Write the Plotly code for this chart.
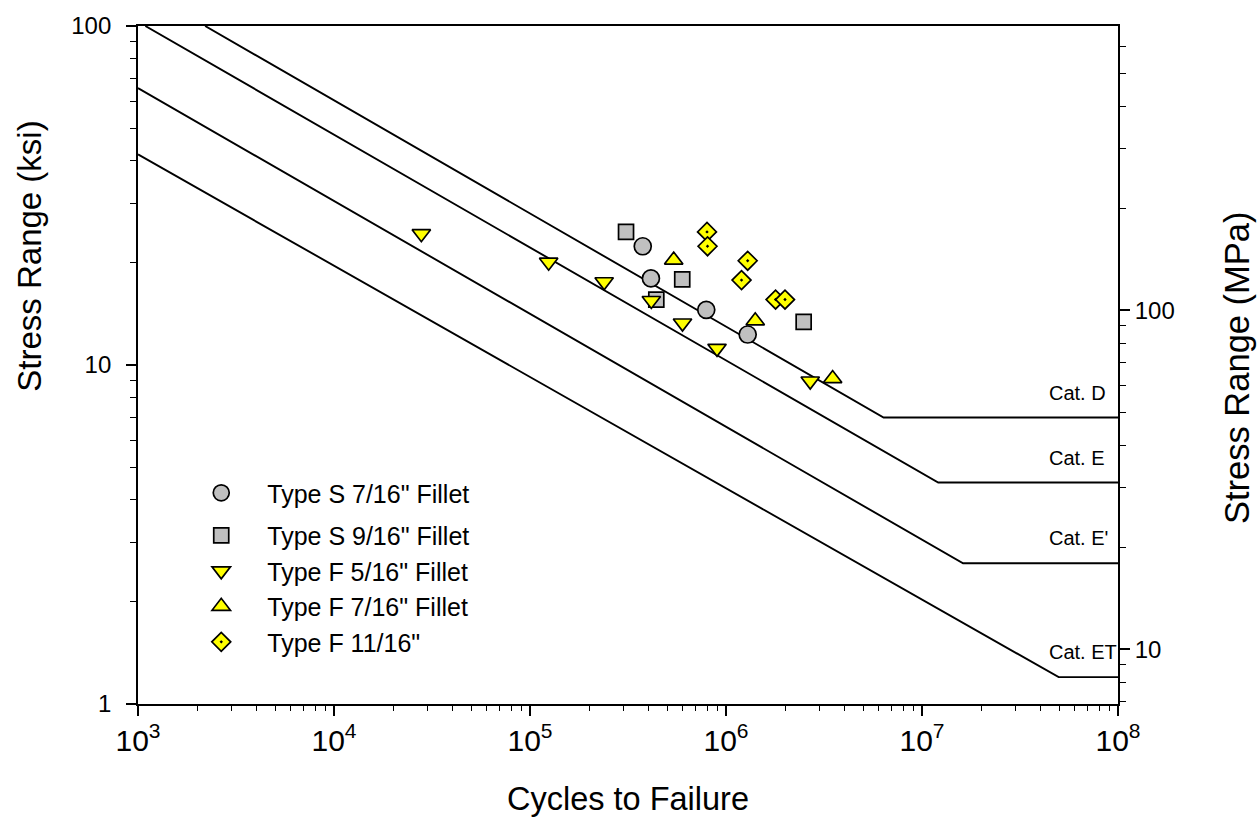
import math
import plotly.graph_objects as go

# ---------------- data ----------------
# Test data: cycles to failure (N) and stress range (ksi)
s716_cycles = [3.76e5, 4.14e5, 7.93e5, 1.29e6]
s716_stress = [22.4, 18.0, 14.55, 12.3]

s916_cycles = [3.09e5, 5.98e5, 4.41e5, 2.49e6]
s916_stress = [24.7, 17.9, 15.6, 13.4]

f516_cycles = [2.79e4, 1.245e5, 2.39e5, 4.16e5, 6.0e5, 9.0e5, 2.69e6]
f516_stress = [24.4, 20.1, 17.6, 15.5, 13.3, 11.2, 8.97]

f716_cycles = [5.41e5, 1.41e6, 3.5e6]
f716_stress = [20.4, 13.5, 9.12]

f1116_cycles = [8.0e5, 8.05e5, 1.29e6, 1.20e6, 1.79e6, 2.0e6]
f1116_stress = [24.7, 22.4, 20.3, 17.8, 15.6, 15.6]

# Design S-N curves (vertices: start, knee / CAFT, end)
cat_names = ["Cat. D", "Cat. E", "Cat. E'", "Cat. ET"]
cat_D_cycles = [2.2e3, 6.37e6, 1e8]
cat_D_stress = [100, 7.0, 7.0]
cat_E_cycles = [1.09e3, 1.21e7, 1e8]
cat_E_stress = [100, 4.5, 4.5]
cat_Ep_cycles = [1e3, 1.62e7, 1e8]
cat_Ep_stress = [65.6, 2.6, 2.6]
cat_ET_cycles = [1e3, 4.98e7, 1e8]
cat_ET_stress = [41.8, 1.2, 1.2]

KSI_TO_MPA = 6.895
y_ksi_range = [1, 100]
x_range = [1e3, 1e8]

# ---------------- figure ----------------
FONT = "Liberation Sans, Arial, sans-serif"
fig = go.Figure()

cat_cycles = [cat_D_cycles, cat_E_cycles, cat_Ep_cycles, cat_ET_cycles]
cat_stress = [cat_D_stress, cat_E_stress, cat_Ep_stress, cat_ET_stress]
for name, cx, cy in zip(cat_names, cat_cycles, cat_stress):
    fig.add_trace(go.Scatter(x=cx, y=cy, mode="lines", name=name,
                             line=dict(color="black", width=1.9),
                             showlegend=False, hoverinfo="skip"))

series = [
    ("Type S 7/16\" Fillet", s716_cycles, s716_stress, "circle", "#C0C0C0", 17, "g1"),
    ("Type S 9/16\" Fillet", s916_cycles, s916_stress, "square", "#C0C0C0", 15, "g2"),
    ("Type F 5/16\" Fillet", f516_cycles, f516_stress, "triangle-down", "#FFFF00", 16, "g2"),
    ("Type F 7/16\" Fillet", f716_cycles, f716_stress, "triangle-up", "#FFFF00", 16, "g2"),
    ("Type F 11/16\"", f1116_cycles, f1116_stress, "diamond-dot", "#FFFF00", 14.5, "g2"),
]
for name, xs, ys, sym, col, size, grp in series:
    fig.add_trace(go.Scatter(
        x=xs, y=ys, mode="markers", name=name, legendgroup=grp,
        marker=dict(symbol=sym, color=col, size=size,
                    line=dict(color="black", width=1.7)),
    ))

# category labels just above each plateau
for name, cy in zip(cat_names, cat_stress):
    fig.add_annotation(x=0.9276, xref="paper", y=math.log10(cy[-1]), yref="y",
                       text=name, showarrow=False, xanchor="left", yanchor="middle",
                       yshift=25, font=dict(family=FONT, size=20, color="black"))

# axis titles
fig.add_annotation(x=0.5, xref="paper", y=-0.14, yref="paper", text="Cycles to Failure",
                   showarrow=False, xanchor="center", yanchor="middle",
                   font=dict(family=FONT, size=32.5, color="black"))
fig.add_annotation(x=-0.111, xref="paper", y=0.66, yref="paper", text="Stress Range (ksi)",
                   showarrow=False, xanchor="center", yanchor="middle", textangle=-90,
                   font=dict(family=FONT, size=33, color="black"))
fig.add_annotation(x=1.1214, xref="paper", y=0.497, yref="paper", text="Stress Range (MPa)",
                   showarrow=False, xanchor="center", yanchor="middle", textangle=-90,
                   font=dict(family=FONT, size=34.5, color="black"))

# invisible trace to activate right axis
fig.add_trace(go.Scatter(x=[x_range[0]], y=[y_ksi_range[0] * KSI_TO_MPA], yaxis="y2",
                         mode="markers", marker=dict(opacity=0), showlegend=False,
                         hoverinfo="skip"))

tickfont = dict(family=FONT, size=24, color="black")
fig.update_layout(
    width=1258, height=817,
    margin=dict(l=138, r=140, t=18, b=113),
    paper_bgcolor="white", plot_bgcolor="white",
    font=dict(family=FONT, color="black"),
    showlegend=True,
    legend=dict(x=0.038, y=0.345, xanchor="left", yanchor="top",
                font=dict(family=FONT, size=25, color="black"),
                itemwidth=82, tracegroupgap=7, bgcolor="rgba(0,0,0,0)"),
    xaxis=dict(type="log", range=[math.log10(x_range[0]), math.log10(x_range[1])],
               dtick=1, exponentformat="power", showgrid=False, zeroline=False,
               showline=True, linecolor="black", linewidth=1.8, mirror=True,
               ticks="outside", ticklen=10, tickwidth=1.6, tickcolor="black",
               tickfont=tickfont,
               minor=dict(ticks="outside", ticklen=5, tickwidth=1.3, tickcolor="black",
                          dtick="D1", showgrid=False)),
    yaxis=dict(type="log", range=[math.log10(y_ksi_range[0]), math.log10(y_ksi_range[1])],
               tickvals=[1, 10, 100], ticktext=["1", "10", "100"],
               showgrid=False, zeroline=False,
               showline=True, linecolor="black", linewidth=1.8,
               ticks="outside", ticklen=10, tickwidth=1.6, tickcolor="black",
               tickfont=tickfont, ticklabelstandoff=10,
               minor=dict(ticks="outside", ticklen=6, tickwidth=1.3, tickcolor="black",
                          dtick="D1", showgrid=False)),
    yaxis2=dict(type="log", overlaying="y", side="right", anchor="x",
                range=[math.log10(y_ksi_range[0] * KSI_TO_MPA),
                       math.log10(y_ksi_range[1] * KSI_TO_MPA)],
                tickvals=[10, 100], ticktext=["10", "100"],
                showgrid=False, zeroline=False,
                showline=True, linecolor="black", linewidth=1.8,
                ticks="outside", ticklen=10, tickwidth=1.6, tickcolor="black",
                tickfont=tickfont,
                minor=dict(ticks="outside", ticklen=6, tickwidth=1.3, tickcolor="black",
                           dtick="D1", showgrid=False)),
)

fig.write_html("out.html")
